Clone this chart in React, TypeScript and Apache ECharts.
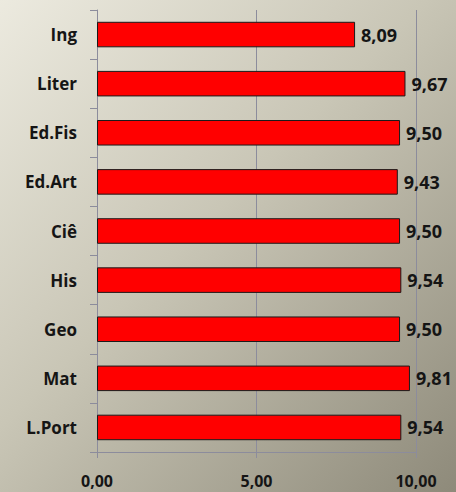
import React, { useEffect, useRef } from "react";
import * as echarts from "echarts";

const categories = ["Ing", "Liter", "Ed.Fis", "Ed.Art", "Ciê", "His", "Geo", "Mat", "L.Port"];
const values = [8.09, 9.67, 9.5, 9.43, 9.5, 9.54, 9.5, 9.81, 9.54];
const xTicks = [0, 5, 10];

const fmt = (v: number) => v.toFixed(2).replace(".", ",");

export default function App() {
  const ref = useRef<HTMLDivElement>(null);
  useEffect(() => {
    const chart = echarts.init(ref.current!, null, { renderer: "svg" });
    const font = "Open Sans, Noto Sans, sans-serif";
    chart.setOption({
      animation: false,
      grid: { left: 97, right: 40, top: 10, bottom: 40, containLabel: false },
      xAxis: {
        type: "value",
        min: xTicks[0],
        max: xTicks[xTicks.length - 1],
        interval: xTicks[1] - xTicks[0],
        axisLine: { show: true, lineStyle: { color: "#8c8c9c", width: 1 } },
        axisTick: { show: true, length: 6, lineStyle: { color: "#8c8c9c" } },
        splitLine: { show: true, lineStyle: { color: "#8c8c9c", width: 1 } },
        axisLabel: {
          formatter: (v: number) => fmt(v),
          color: "#151515",
          fontWeight: "bold",
          fontSize: 16,
          fontFamily: font,
          margin: 21,
        },
      },
      yAxis: {
        type: "category",
        inverse: true,
        data: categories,
        axisLine: { show: true, lineStyle: { color: "#8c8c9c", width: 1 } },
        axisTick: { show: true, length: 7, lineStyle: { color: "#8c8c9c" } },
        axisLabel: {
          color: "#151515",
          fontWeight: "bold",
          fontSize: 17,
          fontFamily: font,
          margin: 20,
        },
      },
      series: [
        {
          type: "bar",
          data: values,
          barCategoryGap: "48%",
          itemStyle: { color: "#ff0000", borderColor: "#1a1a1a", borderWidth: 1 },
          label: {
            show: true,
            position: "right",
            distance: 6,
            formatter: (p: any) => fmt(p.value),
            color: "#151515",
            fontWeight: "bold",
            fontSize: 18,
            fontFamily: font,
          },
        },
      ],
    });
    return () => chart.dispose();
  }, []);
  return (
    <div
      style={{
        position: "absolute",
        left: 0,
        top: 0,
        width: 456,
        height: 492,
        background: "linear-gradient(135deg, #eceadf 0%, #c9c6b6 45%, #8e8a7a 100%)",
      }}
    >
      <div ref={ref} style={{ width: 456, height: 492 }} />
    </div>
  );
}
